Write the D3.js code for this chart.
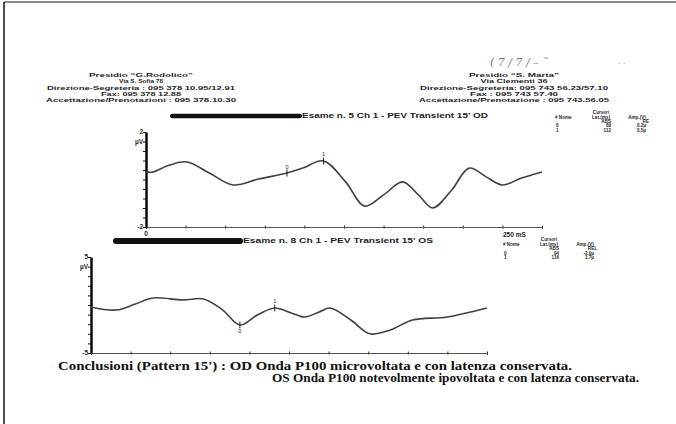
<!DOCTYPE html>
<html>
<head>
<meta charset="utf-8">
<script src="https://cdn.jsdelivr.net/npm/d3@7"></script>
<style>
  body { margin: 0; background: #fff; }
  svg { display: block; }
</style>
</head>
<body>
<div id="chart"></div>
<script>
// header lines of the two hospitals
var headerLeft = ["Presidio \u201CG.Rodolico\u201D", "Via S. Sofia 78", "Direzione-Segreteria : 095 378 10.95/12.91", "Fax: 095 378 12.88", "Accettazione/Prenotazioni : 095 378.10.30"];
var headerRight = ["Presidio \u201CS. Marta\u201D", "Via Clementi 36", "Direzione-Segreteria: 095 743 56.23/57.10", "Fax : 095 743 57.40", "Accettazione/Prenotazione : 095 743.56.05"];

// OD trace (time ms, amplitude uV)
var odTime = [0, 4, 15, 26, 40, 55, 71, 89, 99, 112, 126, 138, 150, 162, 172, 181, 193, 204, 215, 225, 237, 250];
var odAmp = [0.32, 0.31, 0.61, 0.74, 0.27, -0.23, 0.02, 0.27, 0.48, 0.78, -0.1, -1.12, -0.65, -0.1, -0.65, -1.2, -0.44, 0.48, 0.1, -0.23, 0.06, 0.32];

// OS trace
var osTime = [0, 16, 28, 39, 58, 71, 83, 94, 105, 116, 126, 135, 144, 151, 164, 176, 189, 203, 225, 250];
var osAmp = [-0.2, -0.52, 0.1, 0.73, 0.52, 0.63, -0.5, -2.08, -1.04, -0.31, -0.8, -1.25, -0.73, -0.31, -1.56, -3.0, -2.6, -1.56, -1.25, -0.31];

// cursors
var odCursorName = ["0", "1"];
var odCursorLat = [89, 112];
var odCursorAmp = [0.27, 0.78];
var odCursorRel = ["0.2\u00B5", "0.5\u00B5"];
var osCursorName = ["0", "1"];
var osCursorLat = [94, 116];
var osCursorAmp = [-2.08, -0.31];
var osCursorRel = ["-2.0\u00B5", "1.7\u00B5"];

var xTicks = [0, 25, 50, 75, 100, 125, 150, 175, 200, 225, 250];
var odYTicks = [-2, -1.6, -1.2, -0.8, -0.4, 0, 0.4, 0.8, 1.2, 1.6, 2];
var osYTicks = [-5, -4, -3, -2, -1, 0, 1, 2, 3, 4, 5];
var odYLabels = [[2, "2"], [1.6, "\u00B5V"], [-2, "-2"]];
var osYLabels = [[5, "5"], [4, "\u00B5V"], [-5, "-5"]];

var conclusion1 = "Conclusioni (Pattern 15') : OD Onda P100 microvoltata e con latenza conservata.";
var conclusion2 = "OS Onda P100 notevolmente ipovoltata e con latenza conservata.";

var width = 676, height = 424;
var ink = "#1e1e1e";

var svg = d3.select("#chart").append("svg")
    .attr("width", width)
    .attr("height", height);

svg.append("rect").attr("width", width).attr("height", height).attr("fill", "#fff");

// page edges of the scan
svg.append("line").attr("x1", 4).attr("x2", width).attr("y1", 2).attr("y2", 2)
    .attr("stroke", "#8c8c8c").attr("stroke-width", 2);
svg.append("line").attr("x1", 4).attr("x2", 4).attr("y1", 2).attr("y2", height)
    .attr("stroke", "#111").attr("stroke-width", 1.5);

// headers
function header(lines, cx, widths) {
    svg.append("g").selectAll("text")
        .data(lines)
        .join("text")
        .attr("x", cx)
        .attr("y", (d, i) => 77 + i * 6.3)
        .attr("text-anchor", "middle")
        .attr("font-family", "Liberation Sans, Arial, sans-serif")
        .attr("font-weight", "bold")
        .attr("font-size", 6.2)
        .attr("fill", "#262626")
        .attr("textLength", (d, i) => widths[i])
        .attr("lengthAdjust", "spacingAndGlyphs")
        .text(d => d);
}
header(headerLeft, 141, [104, 44, 188, 80, 190]);
header(headerRight, 514, [90, 67, 188, 88, 190]);

// handwritten date scribble
svg.append("text")
    .attr("x", 490).attr("y", 66)
    .attr("font-family", "DejaVu Serif, serif")
    .attr("font-style", "italic")
    .attr("font-size", 11)
    .attr("fill", "#777")
    .text("( 7 / 7 / \u2013  \u02DC");
svg.append("text")
    .attr("x", 618).attr("y", 64)
    .attr("font-family", "DejaVu Sans, sans-serif")
    .attr("font-size", 8)
    .attr("fill", "#999")
    .text(". .");

function panel(cfg) {
    var x = d3.scaleLinear().domain([0, 250]).range(cfg.xr);
    var y = d3.scaleLinear().domain(cfg.yd).range(cfg.yr);
    var g = svg.append("g");

    // redacted name + exam label
    g.append("rect")
        .attr("x", cfg.bar[0]).attr("y", cfg.bar[1] - cfg.bar[3] / 2)
        .attr("width", cfg.bar[2] - cfg.bar[0]).attr("height", cfg.bar[3])
        .attr("rx", cfg.bar[3] / 2)
        .attr("fill", "#111");
    g.append("text")
        .attr("x", cfg.bar[2]).attr("y", cfg.bar[1] + 2.3)
        .attr("font-family", "Liberation Sans, Arial, sans-serif")
        .attr("font-weight", "bold")
        .attr("font-size", 6.6)
        .attr("fill", ink)
        .attr("textLength", cfg.labelW)
        .attr("lengthAdjust", "spacingAndGlyphs")
        .text(cfg.label);

    // x axis
    g.append("g")
        .attr("transform", `translate(0,${cfg.yr[0]})`)
        .call(d3.axisBottom(x).tickValues(xTicks).tickSize(2).tickFormat(""))
        .call(a => a.select(".domain").attr("stroke", "#555").attr("stroke-width", 1))
        .call(a => a.selectAll(".tick line").attr("stroke", "#333").attr("y1", -1.5).attr("y2", 1.5));

    // y axis
    g.append("g")
        .attr("transform", `translate(${cfg.xr[0]},0)`)
        .call(d3.axisLeft(y).tickValues(cfg.yTicks).tickSize(3).tickFormat("").tickSizeOuter(0))
        .call(a => a.select(".domain").attr("stroke", "#000").attr("stroke-width", 2.4))
        .call(a => a.selectAll(".tick line").attr("stroke", "#111").attr("stroke-width", 1));

    g.append("g").selectAll("text")
        .data(cfg.yLabels)
        .join("text")
        .attr("x", cfg.xr[0] - 3)
        .attr("y", d => y(d[0]) + 2.2)
        .attr("text-anchor", "end")
        .attr("font-family", "Liberation Sans, Arial, sans-serif")
        .attr("font-weight", "bold")
        .attr("font-size", 6.5)
        .attr("fill", ink)
        .text(d => d[1]);

    // waveform
    var pts = cfg.t.map((t, i) => [t, cfg.v[i]]);
    g.append("path")
        .datum(pts)
        .attr("fill", "none")
        .attr("stroke", "#404040")
        .attr("stroke-width", 1.6)
        .attr("d", d3.line().x(d => x(d[0])).y(d => y(d[1])).curve(d3.curveCatmullRom.alpha(0.5)));

    // cursor marks
    var cur = g.append("g").selectAll("g")
        .data(cfg.cLat.map((t, i) => ({ t: t, v: cfg.cAmp[i], n: cfg.cName[i], below: cfg.cBelow[i] })))
        .join("g")
        .attr("transform", d => `translate(${x(d.t)},${y(d.v)})`);
    cur.append("line")
        .attr("y1", -3.5).attr("y2", 3.5)
        .attr("stroke", "#222").attr("stroke-width", 1);
    cur.append("text")
        .attr("y", d => d.below ? 8 : -4.5)
        .attr("text-anchor", "middle")
        .attr("font-family", "Liberation Sans, Arial, sans-serif")
        .attr("font-size", 5.5)
        .attr("fill", ink)
        .text(d => d.n);

    // cursor table
    var tf = "Liberation Sans, Arial, sans-serif";
    var tb = g.append("g")
        .attr("font-family", tf)
        .attr("font-weight", "bold")
        .attr("font-size", 4.6)
        .attr("fill", ink);
    var c = cfg.table;
    tb.append("text").attr("x", c.lat).attr("y", c.y0).attr("text-anchor", "middle").text("Cursori");
    tb.append("text").attr("x", c.name).attr("y", c.y0 + 5).text("# Nome");
    tb.append("text").attr("x", c.lat).attr("y", c.y0 + 5).attr("text-anchor", "middle").text("Lat.(ms)");
    tb.append("text").attr("x", c.amp).attr("y", c.y0 + 5).attr("text-anchor", "middle").text("Amp.(V)");
    tb.append("text").attr("x", c.lat + 10).attr("y", c.y0 + 9).attr("text-anchor", "end").text("ABS");
    tb.append("text").attr("x", c.amp + 12).attr("y", c.y0 + 9).attr("text-anchor", "end").text(c.rel);
    tb.selectAll(".row")
        .data(cfg.cName.map((n, i) => [n, cfg.cLat[i], cfg.cRel[i]]))
        .join("g")
        .attr("class", "row")
        .each(function (d, i) {
            var r = d3.select(this);
            var ry = c.y0 + 13.5 + i * 4.6;
            r.append("text").attr("x", c.name + 1).attr("y", ry).text(d[0]);
            r.append("text").attr("x", c.lat + 10).attr("y", ry).attr("text-anchor", "end").text(d[1]);
            r.append("text").attr("x", c.amp + 9).attr("y", ry).attr("text-anchor", "end").text(d[2]);
        });
    return { x: x, y: y, g: g };
}

var odPanel = panel({
    xr: [146, 542], yd: [-2, 2], yr: [227, 132],
    yTicks: odYTicks, yLabels: odYLabels,
    t: odTime, v: odAmp,
    cName: odCursorName, cLat: odCursorLat, cAmp: odCursorAmp, cRel: odCursorRel, cBelow: [false, false],
    bar: [170, 116, 302, 4.5], label: "Esame n.  5 Ch 1 - PEV Transient 15' OD", labelW: 186,
    table: { name: 555, lat: 601, amp: 637, y0: 113.5, rel: "RE" }
});
odPanel.g.append("text")
    .attr("x", odPanel.x(0)).attr("y", 236)
    .attr("text-anchor", "middle")
    .attr("font-family", "Liberation Sans, Arial, sans-serif")
    .attr("font-weight", "bold")
    .attr("font-size", 6.5)
    .attr("fill", ink)
    .text("0");
odPanel.g.append("text")
    .attr("x", 503).attr("y", 237)
    .attr("font-family", "Liberation Sans, Arial, sans-serif")
    .attr("font-weight", "bold")
    .attr("font-size", 6.5)
    .attr("fill", ink)
    .text("250 mS");

var osPanel = panel({
    xr: [91, 487], yd: [-5, 5], yr: [353, 257],
    yTicks: osYTicks, yLabels: osYLabels,
    t: osTime, v: osAmp,
    cName: osCursorName, cLat: osCursorLat, cAmp: osCursorAmp, cRel: osCursorRel, cBelow: [true, false],
    bar: [113, 241, 243, 6], label: "Esame n.  8 Ch 1 - PEV Transient 15' OS", labelW: 190,
    table: { name: 503, lat: 549, amp: 585, y0: 241, rel: "REL" }
});

// conclusions
var conc = svg.append("g")
    .attr("font-family", "Liberation Serif, Times New Roman, serif")
    .attr("font-weight", "bold")
    .attr("font-size", 11.5)
    .attr("fill", "#111");
conc.append("text").attr("x", 58).attr("y", 370)
    .attr("textLength", 514).attr("lengthAdjust", "spacingAndGlyphs")
    .text(conclusion1);
conc.append("text").attr("x", 272).attr("y", 382)
    .attr("textLength", 367).attr("lengthAdjust", "spacingAndGlyphs")
    .text(conclusion2);
</script>
</body>
</html>
